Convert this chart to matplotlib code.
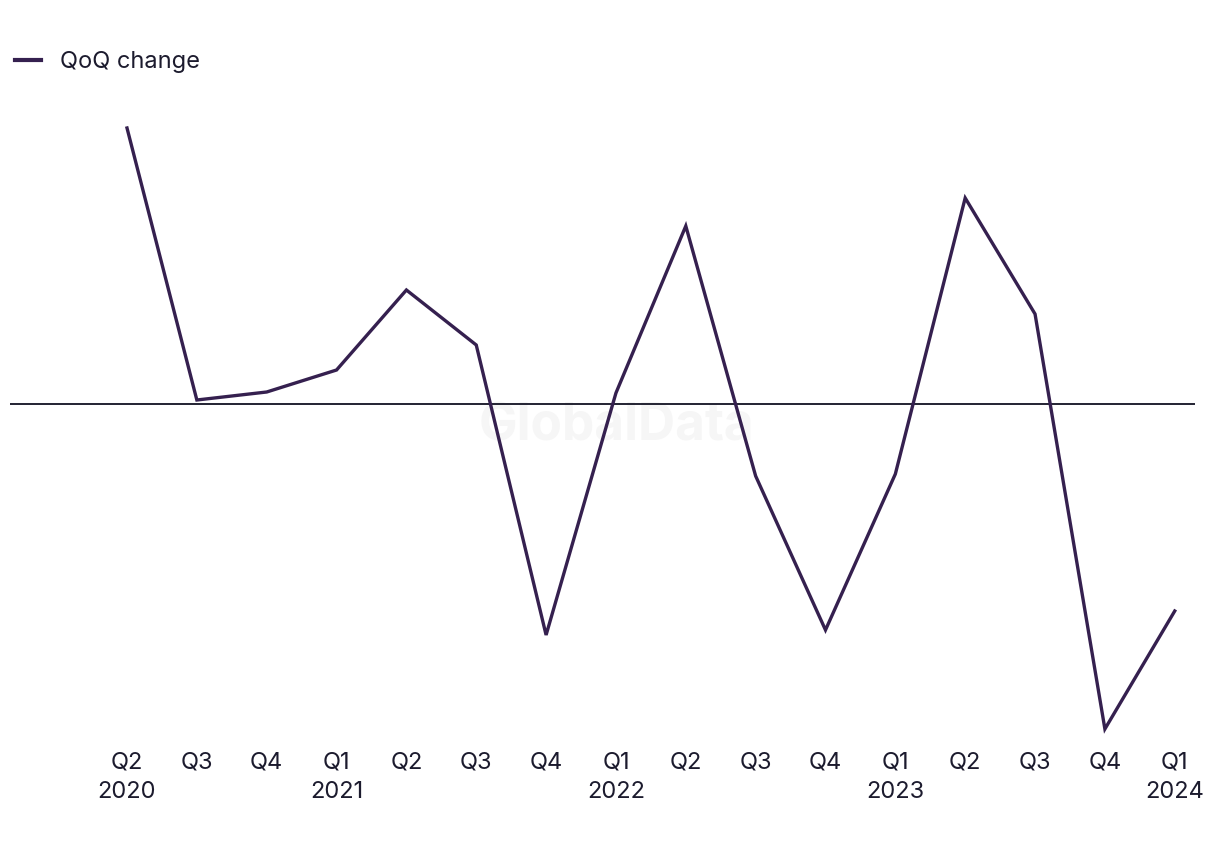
import matplotlib
matplotlib.use("Agg")
import matplotlib.pyplot as plt
from matplotlib.lines import Line2D

quarters = ["Q2\n2020", "Q3", "Q4", "Q1\n2021", "Q2", "Q3", "Q4", "Q1\n2022",
            "Q2", "Q3", "Q4", "Q1\n2023", "Q2", "Q3", "Q4", "Q1\n2024"]
qoq_change = [2.76, 0.04, 0.12, 0.34, 1.14, 0.59, -2.31, 0.11,
              1.78, -0.72, -2.26, -0.70, 2.06, 0.90, -3.25, -2.07]

line_color = "#35204f"
text_color = "#1c1b2e"

plt.rcParams['font.family'] = ['Inter', 'DejaVu Sans']

fig = plt.figure(figsize=(12.2, 8.5), dpi=100)
ax = fig.add_axes([10/1220, 1 - 745/850, 1185/1220, 645/850])

x = list(range(len(quarters)))
ax.plot(x, qoq_change, color=line_color, linewidth=2.4, solid_joinstyle='miter', zorder=3)
ax.axhline(0, color="#111122", linewidth=1.3, zorder=2)

ax.text(0.505, 1 - 427/850, "GlobalData", transform=fig.transFigure,
        ha='center', va='center', fontsize=37, fontweight='bold',
        color="#f6f6f6", zorder=1)

ax.set_xlim(-1.675, 15.29)
ax.set_ylim(-3.41, 3.04)
ax.set_xticks(x)
ax.set_xticklabels(quarters, fontsize=17, color=text_color, linespacing=1.42)
ax.tick_params(axis='x', length=0, pad=5)
ax.set_yticks([])
for s in ax.spines.values():
    s.set_visible(False)

handle = Line2D([], [], color=line_color, linewidth=3)
fig.legend([handle], ["QoQ change"], loc='center left',
           bbox_to_anchor=(0.0, 1 - 62/850), frameon=False, fontsize=17,
           handlelength=1.1, handletextpad=0.8, borderaxespad=0.25,
           labelcolor=text_color)

fig.savefig("out.png", dpi=100, facecolor="white")
